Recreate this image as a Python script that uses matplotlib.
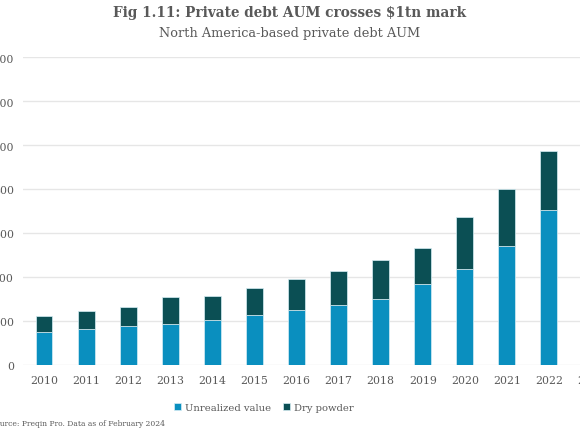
"""
North America-based private debt AUM, stacked bars.
"""
import matplotlib.pyplot as plt
from matplotlib.ticker import FuncFormatter

# --- DATA (USD bn) --- #
years = [2010, 2011, 2012, 2013, 2014, 2015, 2016, 2017, 2018, 2019, 2020, 2021, 2022]
tick_years = years + [2023]
unrealized = [148, 163, 175, 184, 205, 225, 250, 272, 299, 368, 436, 538, 704]
dry_powder = [74, 80, 90, 124, 110, 125, 140, 154, 177, 165, 238, 262, 270]

blue = "#0a8fbf"
teal = "#0b4f54"
grey_text = "#595959"

plt.rcParams["font.family"] = ["DejaVu Serif"]

fig = plt.figure(figsize=(5.8, 4.35), dpi=100)
ax = fig.add_axes([0.0397, 0.159, 1.0155, 0.708])

x = list(range(len(years)))
ax.bar(x, unrealized, width=0.4, color=blue, edgecolor="#d6eef5", linewidth=0.5,
       label="Unrealized value", zorder=3)
ax.bar(x, dry_powder, width=0.4, bottom=unrealized, color=teal, edgecolor="#d6eef5",
       linewidth=0.5, label="Dry powder", zorder=3)

ax.set_xlim(-0.5, len(tick_years) - 0.5)
ax.set_ylim(0, 1400)
ax.set_yticks(range(0, 1401, 200))
ax.yaxis.set_major_formatter(FuncFormatter(lambda v, p: f"{int(v):,}"))
ax.set_xticks(range(len(tick_years)))
ax.set_xticklabels([str(y) for y in tick_years])

ax.grid(axis="y", color="#e6e6e6", linewidth=1, zorder=0)
for s in ax.spines.values():
    s.set_visible(False)
ax.tick_params(axis="both", length=0, labelsize=7.8, colors=grey_text, pad=7)
ax.tick_params(axis="y", pad=6.5)

# --- TITLE --- #
fig.text(0.5, 0.962, "Fig 1.11: Private debt AUM crosses $1tn mark", ha="center",
         fontsize=9.8, fontweight="bold", color=grey_text)
fig.text(0.5, 0.915, "North America-based private debt AUM", ha="center",
         fontsize=9.3, color=grey_text)

# --- LEGEND AND SOURCE --- #
fig.legend(loc="center", bbox_to_anchor=(0.455, 0.062), ncol=2, frameon=False,
           fontsize=7.2, handlelength=0.7, handleheight=0.7, handletextpad=0.4,
           columnspacing=1.2, labelcolor=grey_text)
fig.text(-0.018, 0.021, "Source: Preqin Pro. Data as of February 2024", fontsize=5.5,
         color=grey_text)

plt.savefig("out.png", dpi=100)
